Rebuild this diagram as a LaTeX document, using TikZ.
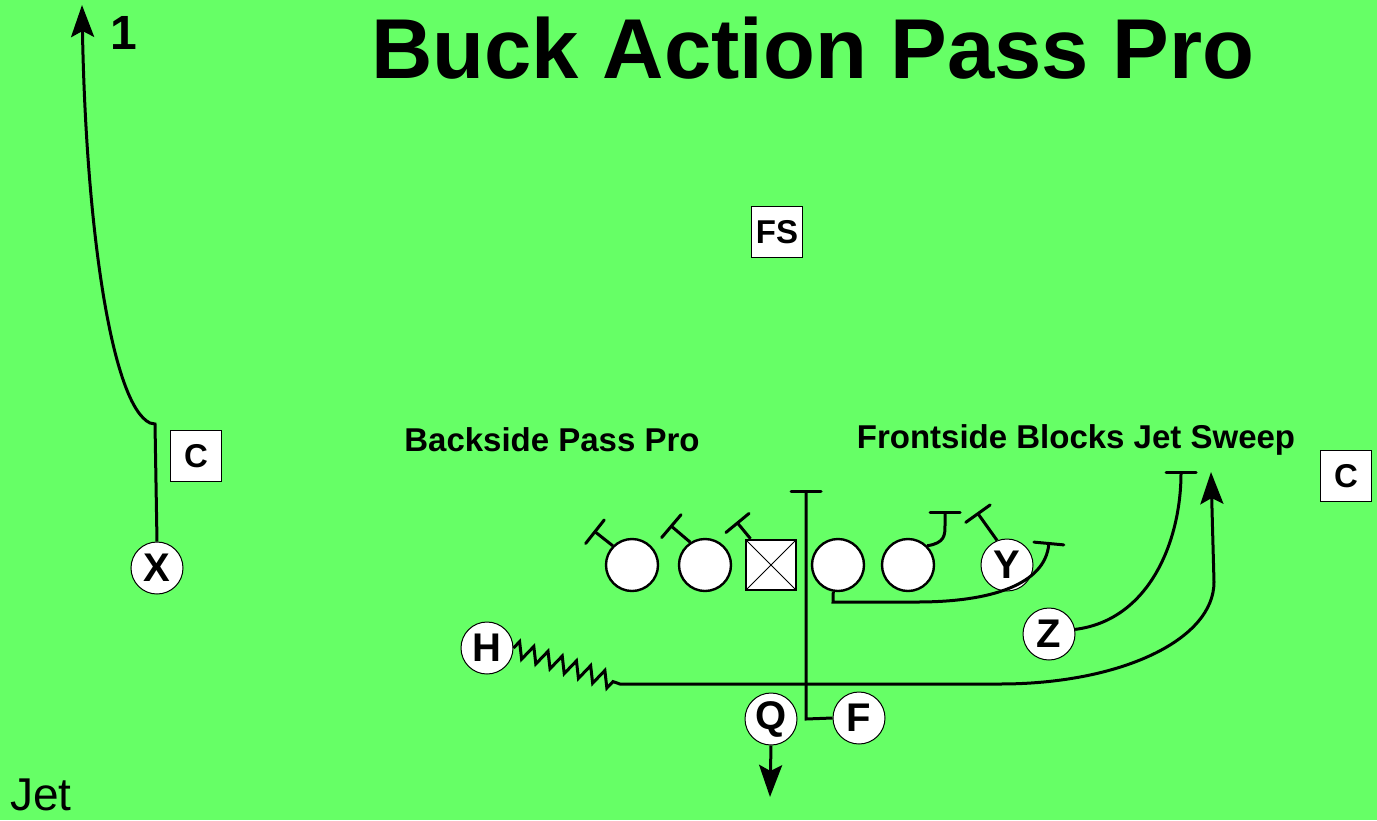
\documentclass[tikz,border=0pt]{standalone}
\usepackage{fontspec}
\setmainfont{Liberation Sans}
\usetikzlibrary{arrows.meta}
\usetikzlibrary{decorations.pathmorphing}
\definecolor{fieldgreen}{RGB}{102,255,102}

\tikzset{
	skill/.style={circle,draw,fill=white,line width=1pt,minimum size=52pt,inner sep=0pt,font=\fontsize{40}{40}\selectfont\bfseries},
	oline/.style={circle,draw,fill=white,line width=2.4pt,minimum size=52pt,inner sep=0pt},
	snapbox/.style={rectangle,draw,fill=white,line width=2.4pt,minimum size=50pt,inner sep=0pt,
		path picture={\draw[line width=1pt] (path picture bounding box.south west) -- (path picture bounding box.north east)
			(path picture bounding box.north west) -- (path picture bounding box.south east);}},
	defbox/.style={rectangle,draw,fill=white,line width=1pt,minimum size=51pt,inner sep=0pt,font=\fontsize{33}{33}\selectfont\bfseries},
	route/.style={line width=3pt},
	blk/.style={route,-{Bar[width=30pt,round]}},
	runarrow/.style={route,-{Stealth[width=23pt,length=32pt,inset=6pt]}},
	calltext/.style={font=\fontsize{33}{36}\selectfont\bfseries}
}

\begin{document}
\begin{tikzpicture}[x=1pt,y=-1pt]
		\fill[fieldgreen] (0,0) rectangle (1377,820);
		\useasboundingbox (0,0) rectangle (1377,820);
		
		% titles and notes
		\node[font=\fontsize{85}{90}\selectfont\bfseries] (title) at (813,48) {Buck Action Pass Pro};
		\node[calltext] (bsp) at (552,440) {Backside Pass Pro};
		\node[calltext] (fsb) at (1076,440) {Frontside Blocks Jet Sweep};
		\node[font=\fontsize{48}{48}\selectfont\bfseries] (one) at (124,33) {1};
		\node[anchor=base west,font=\fontsize{46}{46}\selectfont,inner sep=0pt] (jet) at (10,810) {Jet};
		
		% defense
		\node[defbox] (FS) at (777,232) {FS};
		\node[defbox] (CL) at (196,456) {C};
		\node[defbox] (CR) at (1346,476) {C};
		
		% offensive line
		\node[oline] (LT) at (632,565) {};
		\node[oline] (LG) at (705,565) {};
		\node[snapbox] (OC) at (771,565) {};
		\node[oline] (RG) at (838,565) {};
		\node[oline] (RT) at (908,565) {};
		
		% backs and receivers
		\node[skill] (X) at (157,568) {X};
		\node[skill] (Y) at (1007,565) {Y};
		\node[skill] (Z) at (1049,634) {Z};
		\node[skill] (H) at (487,648) {H};
		\node[skill] (Q) at (771,719) {Q};
		\node[skill] (F) at (859,718) {F};
		
		% backside pass pro
		\draw[blk] (LT.135) -- ++(-19,-15);
		\draw[blk] (LG.123) -- ++(-20,-17);
		\draw[blk] (OC.128) -- ++(-14,-17);
		
		% frontside blocks
		\draw[blk] (RT.45) .. controls (945,543) and (945,535) .. (945,525) -- (945,511);
		\draw[blk] (Y.112) -- ++(-20,-28);
		\draw[blk] (RG.260) -- (833,602) -- (917,602) .. controls (990,602) and (1045,585) .. (1049,542);
		\draw[blk] (F.west) -- (806,719) -- (806,490);
		\draw[blk] (Z.10) .. controls (1150,620) and (1181,540) .. (1181,471);
		
		% jet motion and sweep
		\draw[runarrow] (H.east) decorate[decoration={zigzag,segment length=15pt,amplitude=8pt,post length=6pt}] {-- (620,684)}
			-- (1000,684) .. controls (1120,684) and (1214,640) .. (1214,582) -- (1211,472);
		
		% X go route and QB drop
		\draw[runarrow] (X.north) -- (155,424) -- (150,423) .. controls (112,405) and (86,230) .. (82,5);
		\draw[runarrow] (Q.south) -- (770,797);
	\end{tikzpicture}
\end{document}
